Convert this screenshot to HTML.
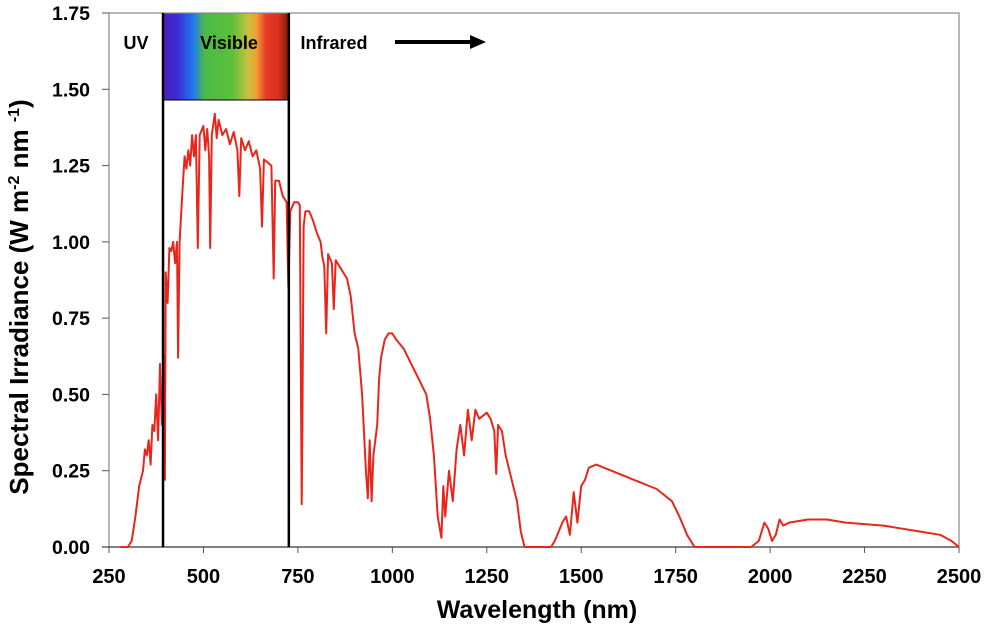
<!DOCTYPE html>
<html><head><meta charset="utf-8"><style>
body{margin:0;background:#fff;}
svg text{font-family:"Liberation Sans",Arial,sans-serif;font-weight:bold;fill:#000;}
</style></head><body>
<svg width="987" height="632" viewBox="0 0 987 632">
<defs>
<linearGradient id="spec" x1="0" x2="1" y1="0" y2="0">
<stop offset="0" stop-color="#4a1fb8"/>
<stop offset="0.12" stop-color="#3a2ed8"/>
<stop offset="0.24" stop-color="#1e78f0"/>
<stop offset="0.33" stop-color="#4cb848"/>
<stop offset="0.55" stop-color="#5cc03a"/>
<stop offset="0.68" stop-color="#c8c040"/>
<stop offset="0.74" stop-color="#f0a030"/>
<stop offset="0.82" stop-color="#e83a28"/>
<stop offset="0.92" stop-color="#d83020"/>
<stop offset="1" stop-color="#7a1a10"/>
</linearGradient>
</defs>
<g id="chart"></g>
</svg>
<script>
const xTicks=[250,500,750,1000,1250,1500,1750,2000,2250,2500];
const yTicks=[0,0.25,0.5,0.75,1.0,1.25,1.5,1.75];
const wavelengths=[280,300,310,320,330,340,345,350,355,360,365,370,375,380,385,390,395,398,400,405,410,415,420,425,430,433,437,440,445,450,455,460,465,470,475,480,485,490,500,505,510,515,518,522,530,535,540,550,560,570,580,590,595,600,610,620,630,640,650,655,660,670,680,686,690,700,710,720,725,730,740,750,755,760,762,765,770,780,790,800,810,815,820,825,830,840,845,850,860,870,880,890,900,910,920,930,935,940,945,950,960,965,970,980,990,1000,1010,1030,1050,1070,1090,1100,1110,1120,1130,1135,1140,1150,1160,1170,1180,1190,1200,1210,1220,1230,1250,1260,1270,1275,1280,1290,1300,1320,1330,1340,1350,1420,1430,1440,1450,1460,1470,1480,1490,1500,1510,1520,1540,1560,1580,1600,1620,1640,1660,1680,1700,1720,1740,1760,1780,1800,1950,1970,1985,1995,2005,2015,2025,2035,2050,2100,2150,2200,2250,2300,2350,2400,2450,2480,2500];
const irradiance=[0,0,0.02,0.1,0.2,0.25,0.32,0.3,0.35,0.27,0.4,0.38,0.5,0.35,0.6,0.4,0.63,0.22,0.9,0.8,0.98,0.97,1.0,0.93,1.0,0.62,1.0,1.07,1.18,1.28,1.24,1.3,1.25,1.35,1.28,1.35,0.98,1.35,1.38,1.3,1.37,1.28,0.98,1.35,1.42,1.34,1.4,1.35,1.37,1.32,1.36,1.3,1.15,1.34,1.3,1.33,1.28,1.3,1.24,1.05,1.27,1.26,1.25,0.88,1.2,1.2,1.15,1.13,0.85,1.1,1.13,1.13,1.12,0.14,0.4,1.05,1.1,1.1,1.07,1.03,1.0,0.95,0.92,0.7,0.96,0.93,0.78,0.94,0.92,0.9,0.88,0.82,0.7,0.65,0.5,0.25,0.16,0.35,0.15,0.3,0.4,0.55,0.62,0.68,0.7,0.7,0.68,0.65,0.6,0.55,0.5,0.42,0.3,0.1,0.03,0.2,0.1,0.25,0.15,0.32,0.4,0.3,0.45,0.35,0.45,0.42,0.44,0.42,0.38,0.24,0.4,0.38,0.3,0.2,0.15,0.05,0,0,0.02,0.05,0.08,0.1,0.04,0.18,0.08,0.2,0.22,0.26,0.27,0.26,0.25,0.24,0.23,0.22,0.21,0.2,0.19,0.17,0.15,0.1,0.04,0,0,0.02,0.08,0.06,0.02,0.04,0.09,0.07,0.08,0.09,0.09,0.08,0.075,0.07,0.06,0.05,0.04,0.02,0];
const visibleRange=[393,726];

const NS="http://www.w3.org/2000/svg";
const g=document.getElementById('chart');
const L=109,R=959,T=13,B=547;
function xs(w){return L+(w-250)/(2500-250)*(R-L);}
function ys(v){return B-v/1.75*(B-T);}
function mk(tag,attrs,parent){const e=document.createElementNS(NS,tag);for(const k in attrs)e.setAttribute(k,attrs[k]);(parent||g).appendChild(e);return e;}

const band=mk('rect',{x:xs(visibleRange[0]),y:T,width:xs(visibleRange[1])-xs(visibleRange[0]),height:100-T,fill:'url(#spec)'});



const frame=mk('rect',{x:L,y:T,width:R-L,height:B-T,fill:'none',stroke:'#888','stroke-width':1.2});



yTicks.forEach(v=>{
  const y=ys(v);
  const t=mk('line',{x1:L-7,x2:L,y1:y,y2:y,stroke:'#555','stroke-width':1});
  
  
  const lb=mk('text',{x:90,y:y+7,'text-anchor':'end','font-size':19.5});
  lb.textContent=v.toFixed(2);
  
  
});
xTicks.forEach(w=>{
  const x=xs(w);
  const t=mk('line',{x1:x,x2:x,y1:B,y2:B+6,stroke:'#555','stroke-width':1});
  
  
  const lb=mk('text',{x:x,y:583,'text-anchor':'middle','font-size':20});
  lb.textContent=w;
  
  
});
const base=mk('line',{x1:L-7,x2:R,y1:B,y2:B,stroke:'#444','stroke-width':1.3});



const pts=wavelengths.map((w,i)=>xs(w).toFixed(1)+','+ys(irradiance[i]).toFixed(1)).join(' ');
const line=mk('polyline',{points:pts,fill:'none',stroke:'#e8261c','stroke-width':2,'stroke-linejoin':'round'});



visibleRange.forEach(w=>{
  const l=mk('line',{x1:xs(w),x2:xs(w),y1:T,y2:B,stroke:'#000','stroke-width':2.5});
  
  
});
const bandBottom=mk('line',{x1:xs(visibleRange[0]),x2:xs(visibleRange[1]),y1:100,y2:100,stroke:'#000','stroke-width':1});



[['UV',136,'uv-label'],['Visible',229,'visible-label'],['Infrared',334,'infrared-label']].forEach(a=>{
  const t=mk('text',{x:a[1],y:49,'text-anchor':'middle','font-size':18});
  t.textContent=a[0];
  
  
});
const arr=mk('line',{x1:395,x2:472,y1:42,y2:42,stroke:'#000','stroke-width':4});


const head=mk('polygon',{points:'470,35 486,42 470,49',fill:'#000'});



const xt=mk('text',{x:537,y:618,'text-anchor':'middle','font-size':25});
xt.textContent='Wavelength (nm)';


const yt=mk('text',{x:0,y:0,'text-anchor':'middle','font-size':26,transform:'translate(28,297) rotate(-90)'});
yt.innerHTML='Spectral Irradiance (W m<tspan dy="-9" font-size="16">-2</tspan><tspan dy="9"> nm </tspan><tspan dy="-9" font-size="16">-1</tspan><tspan dy="9">)</tspan>';


</script>
</body></html>
